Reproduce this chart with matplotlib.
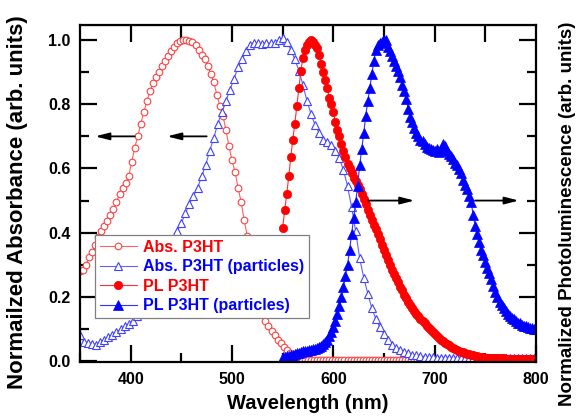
import numpy as np
import matplotlib.pyplot as plt
from matplotlib.ticker import MultipleLocator

plt.rcParams['font.family'] = ['Liberation Sans', 'DejaVu Sans']
plt.rcParams['font.weight'] = 'bold'

# absorbance of P3HT film, 3 nm step
abs_x = np.arange(350, 801, 3)
abs_y = [0.28, 0.285, 0.30, 0.325, 0.34, 0.36, 0.385, 0.405, 0.42, 0.435,
         0.455, 0.475, 0.495, 0.52, 0.54, 0.555, 0.575, 0.62, 0.665, 0.70,
         0.74, 0.775, 0.81, 0.84, 0.865, 0.885, 0.90, 0.92, 0.935, 0.95,
         0.965, 0.98, 0.99, 0.997, 1.0, 1.0, 0.998, 0.995, 0.985, 0.97,
         0.955, 0.94, 0.92, 0.895, 0.87, 0.83, 0.795, 0.765, 0.72, 0.67,
         0.625, 0.59, 0.54, 0.495, 0.44, 0.39, 0.34, 0.295, 0.25, 0.205,
         0.165, 0.125, 0.11, 0.095, 0.08, 0.065, 0.055, 0.045, 0.035, 0.025,
         0.02, 0.015, 0.01, 0.007, 0.005,
         0.004, 0.004, 0.004, 0.004, 0.004, 0.004, 0.004, 0.004, 0.004, 0.004,
         0.004, 0.004, 0.004, 0.004, 0.004, 0.004, 0.004, 0.004, 0.004, 0.004,
         0.004, 0.004, 0.004, 0.004, 0.004, 0.004, 0.004, 0.004, 0.004, 0.004,
         0.004, 0.004, 0.004, 0.004, 0.004, 0.004, 0.004, 0.004, 0.004, 0.004,
         0.004, 0.004, 0.004, 0.004, 0.004, 0.004, 0.004, 0.004, 0.004, 0.004,
         0.004, 0.004, 0.004, 0.004, 0.004, 0.004, 0.004, 0.004, 0.004, 0.004,
         0.004, 0.004, 0.004, 0.004, 0.004, 0.004, 0.004, 0.004, 0.004, 0.004,
         0.004, 0.004, 0.004, 0.004, 0.004, 0.004]

# absorbance of P3HT particles, 4 nm step
absp_x = np.arange(350, 801, 4)
absp_y = [0.08, 0.06, 0.056, 0.052, 0.05, 0.058, 0.066, 0.074, 0.082, 0.09,
          0.099, 0.108, 0.116, 0.126, 0.14, 0.16, 0.18, 0.205, 0.235, 0.265,
          0.295, 0.325, 0.355, 0.38, 0.405, 0.43, 0.46, 0.49, 0.515, 0.54,
          0.575, 0.61, 0.655, 0.695, 0.74, 0.775, 0.81, 0.845, 0.88, 0.915,
          0.94, 0.965, 0.985, 0.99, 0.99, 0.988, 0.99, 0.99, 0.992, 1.0,
          1.005, 0.995, 0.97, 0.94, 0.905, 0.86, 0.81, 0.77, 0.735, 0.71,
          0.69, 0.682, 0.672, 0.655, 0.632, 0.595, 0.545, 0.48, 0.405, 0.32,
          0.26, 0.21, 0.165, 0.13, 0.105, 0.085, 0.065, 0.05, 0.04, 0.033,
          0.028, 0.024, 0.02, 0.018, 0.016, 0.014, 0.013, 0.012, 0.011, 0.01,
          0.01,
          0.008, 0.008, 0.008, 0.008, 0.008, 0.008, 0.008, 0.008, 0.008, 0.008,
          0.008, 0.008, 0.008, 0.008, 0.008, 0.008, 0.008, 0.008, 0.008, 0.008,
          0.008, 0.008]

# photoluminescence, 2 nm step
pl_x = np.arange(550, 801, 2)
pl_y = [0.415, 0.47, 0.52, 0.575, 0.635, 0.69, 0.74, 0.795, 0.85, 0.905,
        0.945, 0.97, 0.985, 0.995, 1.0, 0.995, 0.985, 0.975, 0.955, 0.925,
        0.9, 0.875, 0.85, 0.82, 0.8, 0.775, 0.745, 0.72, 0.7, 0.675,
        0.655, 0.635, 0.615, 0.6, 0.585, 0.57, 0.56, 0.55, 0.535, 0.52,
        0.505, 0.49, 0.47, 0.455, 0.44, 0.425, 0.41, 0.395, 0.38, 0.36,
        0.345, 0.33, 0.315, 0.3, 0.285, 0.27, 0.26, 0.245, 0.23, 0.22,
        0.205, 0.195, 0.185, 0.175, 0.165, 0.155, 0.148, 0.14, 0.132, 0.125,
        0.117, 0.11, 0.103, 0.097, 0.09, 0.084, 0.078, 0.072, 0.067, 0.062,
        0.057, 0.053, 0.049, 0.045, 0.041, 0.038, 0.035, 0.032, 0.029, 0.027,
        0.025, 0.023, 0.021, 0.019, 0.018, 0.016, 0.015, 0.014, 0.013, 0.012,
        0.011, 0.011, 0.01, 0.01, 0.009, 0.009, 0.008, 0.008, 0.008, 0.008,
        0.007, 0.007, 0.007, 0.007, 0.007, 0.007, 0.006, 0.006, 0.006, 0.006,
        0.006, 0.006, 0.006, 0.006, 0.006, 0.006]

plp_x = np.arange(550, 801, 2)
plp_y = [0.012, 0.014, 0.015, 0.016, 0.018, 0.02, 0.022, 0.024, 0.026, 0.028,
         0.03, 0.031, 0.032, 0.033, 0.035, 0.036, 0.038, 0.04, 0.043, 0.047,
         0.052, 0.058, 0.066, 0.077, 0.09, 0.105, 0.125, 0.145, 0.17, 0.2,
         0.23, 0.265, 0.3, 0.345, 0.395, 0.445, 0.495, 0.545, 0.61, 0.66,
         0.71, 0.765, 0.81, 0.85, 0.895, 0.935, 0.97, 0.985, 0.99, 0.995,
         1.0, 1.0, 0.98, 0.965, 0.95, 0.935, 0.92, 0.905, 0.885, 0.86,
         0.84, 0.815, 0.785, 0.76, 0.745, 0.725, 0.71, 0.7, 0.69, 0.685,
         0.675, 0.668, 0.665, 0.66, 0.657, 0.655, 0.66, 0.65, 0.66, 0.675,
         0.67, 0.655, 0.645, 0.638, 0.628, 0.618, 0.61, 0.598, 0.585, 0.565,
         0.548, 0.535, 0.515, 0.495, 0.455, 0.42, 0.395, 0.37, 0.345, 0.33,
         0.31, 0.29, 0.275, 0.255, 0.235, 0.215, 0.2, 0.185, 0.175, 0.165,
         0.155, 0.147, 0.14, 0.135, 0.13, 0.125, 0.12, 0.117, 0.113, 0.11,
         0.108, 0.106, 0.104, 0.102, 0.1, 0.1]

labels = ['Abs. P3HT', 'Abs. P3HT (particles)', 'PL P3HT', 'PL P3HT (particles)']

fig = plt.figure(figsize=(5.81, 4.17), dpi=100)
ax = fig.add_axes([80/581, 1 - 362/417, 456/581, 337/417])

ax.plot(abs_x, abs_y, '-o', color='#ff6060', lw=0.8, ms=4.8, mfc='white',
        mec='#ff4040', mew=0.8, label=labels[0])
ax.plot(absp_x, absp_y, '-^', color='#6060ff', lw=0.8, ms=5.6, mfc='white',
        mec='#4040ff', mew=0.8, label=labels[1])
ax.plot(pl_x, pl_y, '-o', color='#ff3030', lw=0.8, ms=6, mfc='#ff0000',
        mec='#ff0000', mew=0.5, label=labels[2])
ax.plot(plp_x, plp_y, '-^', color='#3030ff', lw=0.8, ms=6.5, mfc='#0000ff',
        mec='#0000ff', mew=0.5, label=labels[3])

ax.set_xlim(350, 800)
ax.set_ylim(-0.003, 1.047)

# ticks: left/right 0.2 major + 0.1 minor, bottom 100 major + 50 minor
ax.xaxis.set_major_locator(MultipleLocator(100))
ax.xaxis.set_minor_locator(MultipleLocator(50))
ax.yaxis.set_major_locator(MultipleLocator(0.2))
ax.yaxis.set_minor_locator(MultipleLocator(0.1))
ax.tick_params(which='major', direction='in', length=12, width=1.6,
               right=True, labelsize=11.5, pad=7)
ax.tick_params(which='minor', direction='in', length=6.5, width=1.6,
               right=True)
ax.yaxis.set_major_formatter(plt.FormatStrFormatter('%.1f'))
for s in ax.spines.values():
    s.set_linewidth(1.6)

top = ax.secondary_xaxis('top')
top.set_xticks(np.arange(400, 800, 50))
top.tick_params(direction='in', length=12, width=1.6, labeltop=False)

ax.set_xlabel('Wavelength (nm)', fontsize=14.5, fontweight='bold')
ax.xaxis.set_label_coords(0.5, -0.095)
ax.xaxis.label.set_va('top')
fig.text(18/581, 1 - 202/417, 'Normailzed Absorbance (arb. units)',
         rotation=90, ha='center', va='center', fontsize=16, fontweight='bold')
fig.text(568/581, 1 - 214/417, 'Normalized Photoluminescence (arb. units)',
         rotation=90, ha='center', va='center', fontsize=13.5, fontweight='bold')

# arrows pointing to the axis each curve belongs to
arrow = dict(arrowstyle='-|>,head_length=0.7,head_width=0.18', lw=1.3,
             color='black', mutation_scale=12, shrinkA=0, shrinkB=0)
ax.annotate('', xy=(365, 0.7), xytext=(404, 0.7), arrowprops=arrow)
ax.annotate('', xy=(436, 0.7), xytext=(475, 0.7), arrowprops=arrow)
ax.annotate('', xy=(680, 0.5), xytext=(634, 0.5), arrowprops=arrow)
ax.annotate('', xy=(783, 0.5), xytext=(740, 0.5), arrowprops=arrow)

leg = ax.legend(loc='lower left', bbox_to_anchor=(0.033, 0.13, 0.46, 0.25),
                fontsize=11.5, frameon=True, fancybox=False,
                handlelength=2.3, handletextpad=0.4, labelspacing=0.28,
                borderpad=0.3, borderaxespad=0)
leg.get_frame().set_edgecolor('#808080')
leg.get_frame().set_linewidth(0.9)
leg.get_frame().set_alpha(1)
for t, c in zip(leg.get_texts(), ['#ff0000', '#0000ff', '#ff0000', '#0000ff']):
    t.set_color(c)
    t.set_fontweight('bold')

fig.savefig('out.png', dpi=100)
